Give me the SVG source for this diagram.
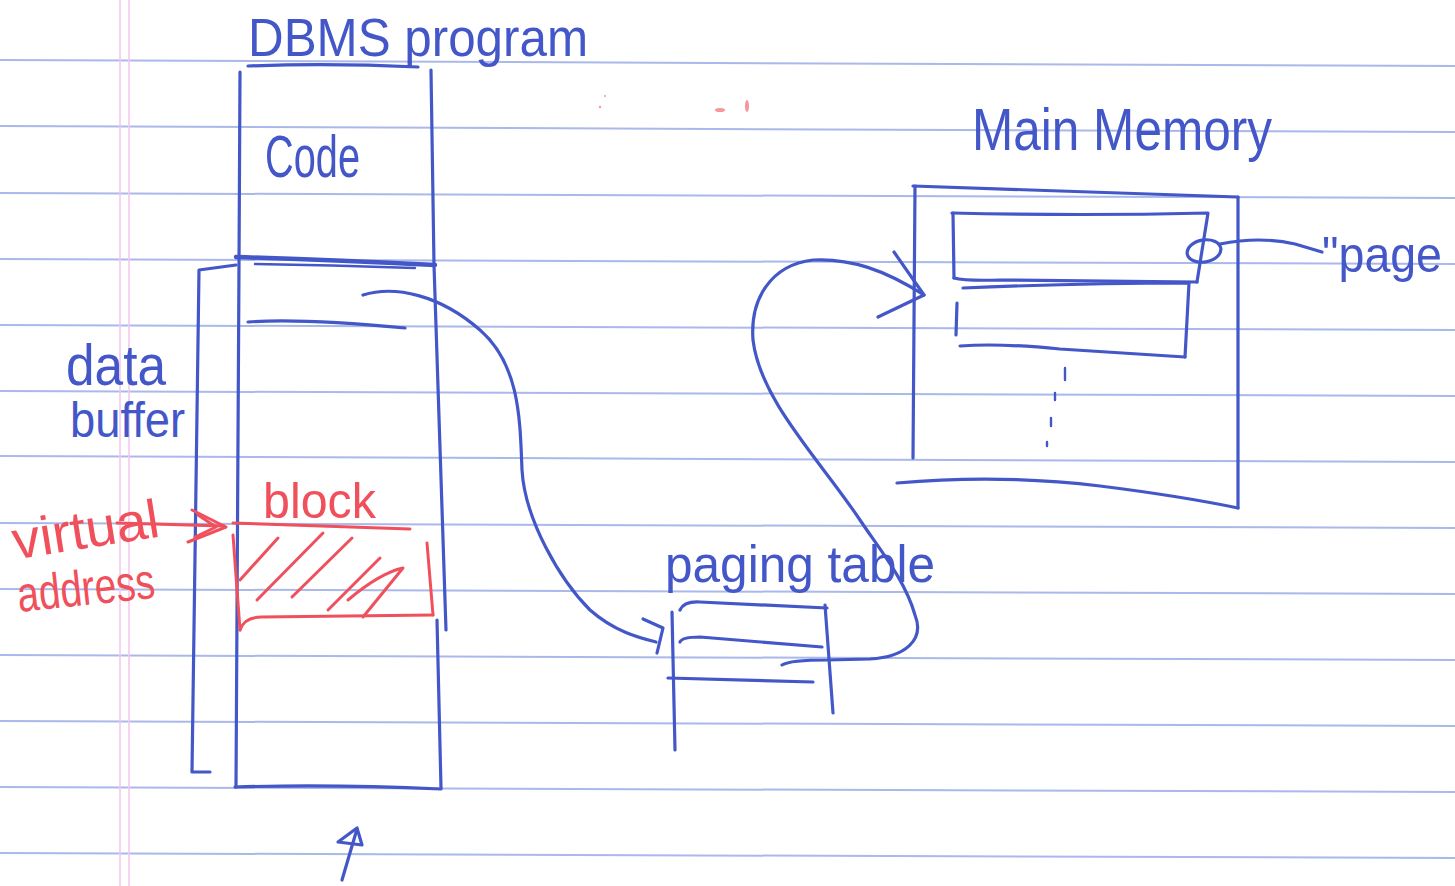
<svg xmlns="http://www.w3.org/2000/svg" width="1455" height="886" viewBox="0 0 1455 886">
<style>
.rule{stroke:#aab8ea;stroke-width:2;fill:none}
.margin{stroke:#f3c8ee;stroke-width:1.6;fill:none}
.pen{stroke:#4357c8;stroke-width:3.2;fill:none;stroke-linecap:round;stroke-linejoin:round}
.thick{stroke-width:4.5}
.thin{stroke-width:2.4}
.red{stroke:#f0505c;stroke-width:3;fill:none;stroke-linecap:round;stroke-linejoin:round}
.tb{fill:#4357c8;font-family:"Liberation Sans",Arial,sans-serif}
.tr{fill:#f0505c;font-family:"Liberation Sans",Arial,sans-serif}
</style>
<rect width="1455" height="886" fill="#ffffff"/>
<g id="paper">
<line class="rule" x1="0" y1="60" x2="1455" y2="66"/>
<line class="rule" x1="0" y1="126" x2="1455" y2="132"/>
<line class="rule" x1="0" y1="193" x2="1455" y2="198"/>
<line class="rule" x1="0" y1="259" x2="1455" y2="264"/>
<line class="rule" x1="0" y1="325" x2="1455" y2="330"/>
<line class="rule" x1="0" y1="391" x2="1455" y2="396"/>
<line class="rule" x1="0" y1="456" x2="1455" y2="462"/>
<line class="rule" x1="0" y1="523" x2="1455" y2="528"/>
<line class="rule" x1="0" y1="589" x2="1455" y2="594"/>
<line class="rule" x1="0" y1="655" x2="1455" y2="660"/>
<line class="rule" x1="0" y1="721" x2="1455" y2="726"/>
<line class="rule" x1="0" y1="787" x2="1455" y2="792"/>
<line class="rule" x1="0" y1="853" x2="1455" y2="858"/>
<line class="margin" x1="120" y1="0" x2="120" y2="886"/>
<line class="margin" x1="129" y1="0" x2="129" y2="886"/>
<g fill="#f0505c" opacity="0.6">
<circle cx="605" cy="96" r="1"/>
<circle cx="600" cy="107" r="1.2"/>
<ellipse cx="720" cy="110" rx="5" ry="2"/>
<ellipse cx="747" cy="106" rx="2" ry="6"/>
</g>
</g>
<g id="dbms-program">
<text class="tb" x="248" y="56" font-size="54" textLength="340" lengthAdjust="spacingAndGlyphs">DBMS program</text>
<path class="pen" d="M248,66 Q330,63 418,67"/>
<path class="pen" d="M240,72 L239,265 L236,787"/>
<path class="pen" d="M431,70 L434,265 L446,630"/>
<path class="pen" d="M437,620 L441,788"/>
<path class="pen" d="M235,787 Q330,784 441,789"/>
<path class="pen thick" d="M236,257 Q330,260 435,265"/>
<path class="pen thin" d="M255,264 Q330,265 415,268"/>
<path class="pen" d="M248,322 Q300,318 405,328"/>
</g>
<g id="code">
<text class="tb" x="265" y="177" font-size="60" textLength="95" lengthAdjust="spacingAndGlyphs">Code</text>
</g>
<g id="data-buffer">
<path class="pen" d="M236,265 L199,270 L192,772 L210,772"/>
<text class="tb" x="66" y="385" font-size="58" textLength="100" lengthAdjust="spacingAndGlyphs">data</text>
<text class="tb" x="70" y="437" font-size="50" textLength="115" lengthAdjust="spacingAndGlyphs">buffer</text>
</g>
<g id="block">
<text class="tr" x="263" y="518" font-size="50" textLength="113" lengthAdjust="spacingAndGlyphs">block</text>
<path class="red" d="M233,523 L410,529"/>
<path class="red" d="M233,535 L240,630"/>
<path class="red" d="M240,630 Q244,617 262,617 L433,615"/>
<path class="red" d="M427,543 L433,615"/>
<path class="red" d="M240,580 L278,538"/>
<path class="red" d="M257,600 L323,533"/>
<path class="red" d="M292,597 L352,538"/>
<path class="red" d="M328,610 L380,558"/>
<path class="red" d="M363,617 L403,568 Q380,573 348,600"/>
</g>
<g id="virtual-address">
<text class="tr" x="10" y="548" font-size="54" textLength="148" lengthAdjust="spacingAndGlyphs" transform="rotate(-9 85 520)">virtual</text>
<text class="tr" x="16" y="605" font-size="50" textLength="138" lengthAdjust="spacingAndGlyphs" transform="rotate(-6 85 580)">address</text>
<path class="red" d="M117,523 L224,526"/>
<path class="red" d="M192,510 L226,527 L188,542"/>
<path class="red" d="M198,515 L216,527 L195,537"/>
</g>
<g id="paging-table">
<text class="tb" x="665" y="582" font-size="52" textLength="270" lengthAdjust="spacingAndGlyphs">paging table</text>
<path class="pen" d="M680,610 Q684,601 700,602 L827,608"/>
<path class="pen" d="M672,612 L675,750"/>
<path class="pen" d="M825,605 L833,713"/>
<path class="pen" d="M680,642 Q682,637 700,637 L822,647"/>
<path class="pen" d="M668,678 L813,682"/>
</g>
<g id="main-memory">
<text class="tb" x="972" y="150" font-size="60" textLength="300" lengthAdjust="spacingAndGlyphs">Main Memory</text>
<path class="pen" d="M913,186 L1238,197"/>
<path class="pen" d="M915,186 L913,458"/>
<path class="pen" d="M1238,197 L1238,508"/>
<path class="pen" d="M897,483 Q1000,474 1100,486 Q1180,496 1238,508"/>
<path class="pen" d="M952,213 Q1080,216 1208,213 L1197,282"/>
<path class="pen" d="M953,213 L954,278"/>
<path class="pen" d="M954,278 Q965,281 1000,280 L1197,282"/>
<path class="pen" d="M963,288 Q1080,283 1189,283 L1185,357"/>
<path class="pen" d="M957,303 L956,335"/>
<path class="pen" d="M960,346 Q1000,343 1060,349 L1185,357"/>
<path class="pen thin" d="M1065,368 L1065,380 M1055,393 L1055,400 M1051,418 L1051,426 M1047,442 L1047,446"/>
</g>
<g id="page-label">
<ellipse class="pen" cx="1204" cy="251" rx="17" ry="11" transform="rotate(-10 1204 251)"/>
<path class="pen" d="M1220,244 Q1260,236 1295,244 L1322,252"/>
<text class="tb" x="1322" y="272" font-size="50" textLength="120" lengthAdjust="spacingAndGlyphs">"page</text>
</g>
<g id="connectors">
<path class="pen" d="M363,295 C395,285 440,295 480,330 C520,365 520,420 522,470 C525,520 560,580 590,610 C615,632 640,638 656,642"/>
<path class="pen" d="M643,619 L663,628 L657,653"/>
<path class="pen" d="M782,665 Q790,660 827,660 L870,659 C905,657 925,640 915,615 C905,580 880,550 860,520 C820,460 760,400 753,340 C750,300 770,265 813,260 C850,258 885,270 924,295"/>
<path class="pen" d="M894,252 L924,295 L878,317"/>
<path class="pen" d="M342,880 L357,829"/>
<path class="pen" d="M357,828 L338,842 L362,845 Z"/>
</g>
</svg>
